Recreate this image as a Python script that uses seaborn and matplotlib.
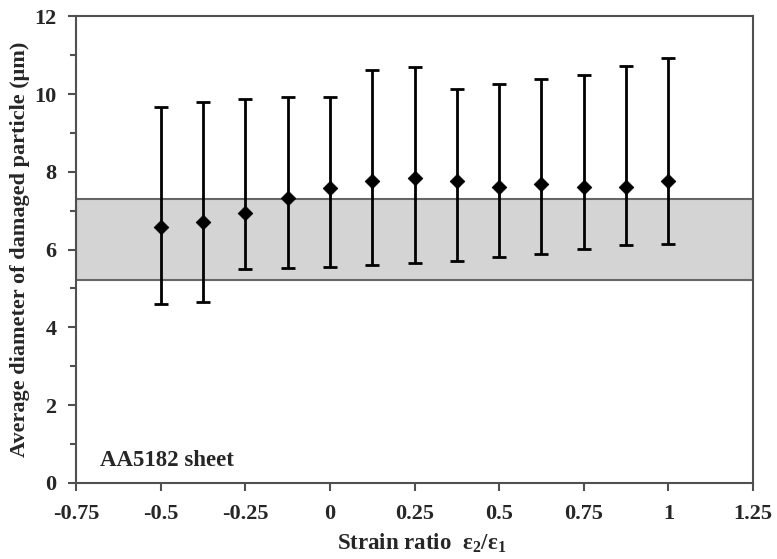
import numpy as np
import pandas as pd
import matplotlib
matplotlib.use("Agg")
import matplotlib.pyplot as plt
import seaborn as sns
from matplotlib.ticker import MultipleLocator

strain_ratio = [-0.5, -0.375, -0.25, -0.125, 0.0, 0.125, 0.25, 0.375, 0.5, 0.625, 0.75, 0.875, 1.0]
mean_diam = [6.58, 6.70, 6.95, 7.32, 7.58, 7.77, 7.85, 7.77, 7.62, 7.69, 7.60, 7.62, 7.77]
upper_diam = [9.67, 9.80, 9.87, 9.92, 9.92, 10.62, 10.70, 10.12, 10.27, 10.39, 10.50, 10.73, 10.92]
lower_diam = [4.60, 4.66, 5.49, 5.53, 5.56, 5.61, 5.66, 5.71, 5.80, 5.89, 6.01, 6.11, 6.14]
band_low, band_high = 5.22, 7.30
x_ticks = [-0.75, -0.5, -0.25, 0, 0.25, 0.5, 0.75, 1, 1.25]
x_tick_labels = ["-0.75", "-0.5", "-0.25", "0", "0.25", "0.5", "0.75", "1", "1.25"]
y_ticks = [0, 2, 4, 6, 8, 10, 12]

df = pd.DataFrame({"x": strain_ratio, "y": mean_diam, "lo": lower_diam, "hi": upper_diam})

sns.set_theme(style="ticks")
plt.rcParams["font.family"] = ["Liberation Serif", "DejaVu Serif"]
plt.rcParams["font.weight"] = "bold"
plt.rcParams["mathtext.fontset"] = "custom"
plt.rcParams["mathtext.rm"] = "Liberation Serif:bold"
plt.rcParams["mathtext.it"] = "Liberation Serif:bold"
plt.rcParams["mathtext.default"] = "rm"

fig = plt.figure(figsize=(7.77, 5.59), dpi=100)
ax = fig.add_axes([0.098, 0.136, 0.871, 0.835])

ax.axhspan(band_low, band_high, xmin=0, xmax=1, facecolor="#d4d4d4",
           edgecolor="#666666", linewidth=1.5, zorder=1)

yerr = np.array([df["y"] - df["lo"], df["hi"] - df["y"]])
ax.errorbar(df["x"], df["y"], yerr=yerr, fmt="none", ecolor="black",
            elinewidth=2, capsize=5, capthick=2, zorder=2)
sns.scatterplot(data=df, x="x", y="y", marker="D", s=55, color="black",
                edgecolor="black", ax=ax, zorder=3)

ax.set_xlim(-0.75, 1.25)
ax.set_ylim(0, 12)
ax.set_xticks(x_ticks)
ax.set_xticklabels(x_tick_labels)
ax.set_yticks(y_ticks)
ax.yaxis.set_minor_locator(MultipleLocator(1))

for s in ax.spines.values():
    s.set_color("#505050")
    s.set_linewidth(1.5)
ax.tick_params(axis="x", which="major", direction="out", length=6, width=1.5,
               color="#505050", labelsize=16, pad=9)
ax.tick_params(axis="y", which="major", direction="out", length=6, width=1.5,
               color="#505050", labelsize=16, pad=8)
ax.tick_params(axis="y", which="minor", direction="out", length=4, width=1.5, color="#505050")
for lab in ax.get_xticklabels() + ax.get_yticklabels():
    lab.set_fontweight("bold")

ax.set_xlabel("Strain ratio  ε$_2$/ε$_1$", fontsize=16.5, fontweight="bold")
ax.xaxis.set_label_coords(0.51, -0.105)
ax.set_ylabel("Average diameter of damaged particle (μm)", fontsize=16, fontweight="bold")
ax.yaxis.set_label_coords(-0.068, 0.5)

ax.text(-0.68, 0.57, "AA5182 sheet", fontsize=16.5, fontweight="bold", va="center", ha="left")

fig.savefig("out.png", dpi=100)
